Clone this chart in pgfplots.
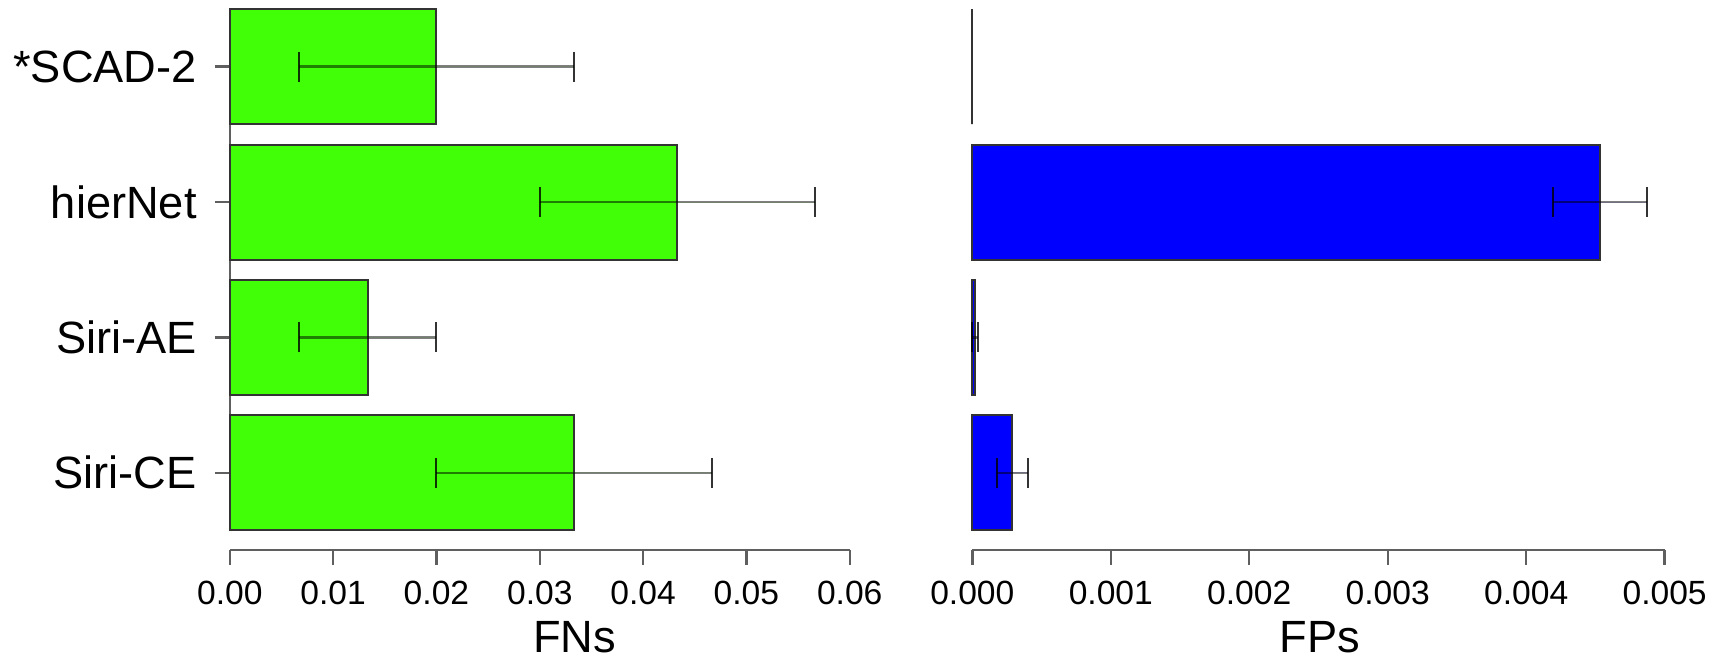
\documentclass[border=0pt]{standalone}
\usepackage{fontspec}
\setmainfont{Liberation Sans}
\usepackage{pgfplots}
\usepackage{pgfplotstable}
\pgfplotsset{compat=1.18}
\definecolor{barg}{RGB}{64,255,6}
\definecolor{barb}{RGB}{0,0,255}
\definecolor{axgray}{RGB}{95,95,95}

\pgfplotstableread{
y  fn      fnerr
0  0.03333 0.01333
1  0.01333 0.00667
2  0.04333 0.01333
3  0.02    0.01333
}\fntable

\pgfplotstableread{
y  fp        fperr
0  0.00029   0.00011
1  0.00002   0.00002
2  0.004535  0.00034
}\fptable

\pgfplotstableread{
y  fp
3  0.0
}\fpzero

\pgfplotsset{
  panel/.style={
    scale only axis,
    height=137.5pt,
    ymin=-0.570, ymax=3.4926,
    axis x line*=bottom,
    x axis line style={axgray, line width=0.6pt, -},
    tick align=outside,
    major tick length=3.75pt,
    every tick/.style={axgray, line width=0.6pt},
    scaled x ticks=false,
    xticklabel style={font=\fontsize{8.4}{9}\selectfont, yshift=-0.4pt},
    xlabel style={font=\fontsize{11.3}{13}\selectfont, anchor=center, inner ysep=1.6pt, yshift=-21.9pt},
    clip=false,
  },
  barbase/.style={
    xbar, bar width=0.85, bar shift=0pt, draw=black!80, line width=0.5pt,
  },
  barstyle/.style={
    barbase,
    error bars/.cd, x dir=both, x explicit,
    error bar style={draw=black, draw opacity=0.5, line width=0.6pt},
    error mark options={rotate=90, draw=black, draw opacity=0.8, line width=0.5pt, mark size=3.75pt},
  },
}

\begin{document}
\begin{tikzpicture}
\begin{axis}[panel,
  at={(0pt,0pt)}, anchor=south west,
  width=155pt,
  xmin=0, xmax=0.06,
  xtick={0,0.01,0.02,0.03,0.04,0.05,0.06},
  xticklabels={0.00,0.01,0.02,0.03,0.04,0.05,0.06},
  axis y line*=left,
  y axis line style={draw=none},
  ytick={0,1,2,3},
  yticklabels={Siri-CE,Siri-AE,hierNet,*SCAD-2},
  yticklabel style={font=\fontsize{11.3}{13}\selectfont, xshift=-1pt},
  xlabel={FNs},
  xlabel style={at={(axis description cs:0.556,0)}},
]
\draw[axgray, line width=0.6pt] (axis cs:0,0) -- (axis cs:0,3);
\addplot[fill=barg, barstyle] table[x=fn, y=y, x error=fnerr]{\fntable};
\end{axis}

\begin{axis}[panel,
  at={(185.65pt,0pt)}, anchor=south west,
  width=173.1pt,
  xmin=0, xmax=0.005,
  xtick={0,0.001,0.002,0.003,0.004,0.005},
  xticklabels={0.000,0.001,0.002,0.003,0.004,0.005},
  axis y line=none,
  ytick=\empty,
  xlabel={FPs},
  xlabel style={at={(axis description cs:0.502,0)}},
]
\addplot[fill=barb, barstyle] table[x=fp, y=y, x error=fperr]{\fptable};
\addplot[fill=barb, barbase] table[x=fp, y=y]{\fpzero};
\end{axis}
\end{tikzpicture}
\end{document}
